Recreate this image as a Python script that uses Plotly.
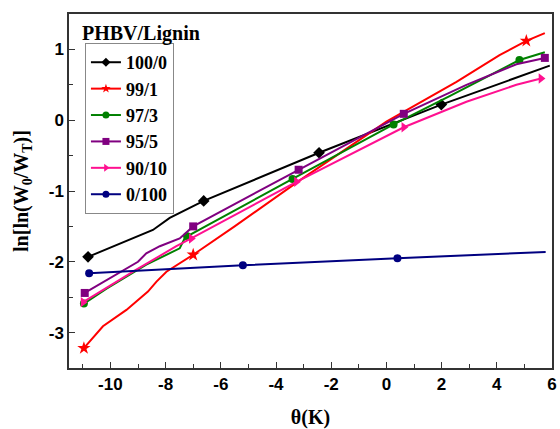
import plotly.graph_objects as go

# theta (K) vs ln[ln(W0/WT)] for PHBV/Lignin blends
labels = ["100/0", "99/1", "97/3", "95/5", "90/10", "0/100"]

x_100_0 = [-10.81, -8.46, -7.85, -6.62, -2.44, 1.99, 5.92]
y_100_0 = [-1.93, -1.55, -1.38, -1.14, -0.46, 0.22, 0.77]
m_100_0 = [0, 3, 4, 5]

x_99_1 = [-10.96, -10.27, -9.42, -8.64, -8.33, -7.97, -7.0, -5.5, -3.14, 0.0, 2.54, 4.1, 5.07, 5.74]
y_99_1 = [-3.22, -2.91, -2.68, -2.42, -2.28, -2.14, -1.90, -1.50, -0.85, -0.02, 0.54, 0.92, 1.12, 1.23]
m_99_1 = [0, 6, 12]

x_97_3 = [-10.96, -10.14, -8.7, -7.97, -7.49, -7.31, -7.22, -3.4, 0.26, 2.29, 4.82, 5.74]
y_97_3 = [-2.59, -2.38, -2.04, -1.90, -1.81, -1.67, -1.64, -0.83, -0.06, 0.34, 0.85, 0.96]
m_97_3 = [0, 6, 7, 8, 10]

x_95_5 = [-10.93, -9.0, -8.7, -8.21, -7.49, -7.0, -3.18, 0.63, 2.9, 4.71, 5.74]
y_95_5 = [-2.44, -2.0, -1.88, -1.78, -1.67, -1.50, -0.70, 0.09, 0.50, 0.79, 0.88]
m_95_5 = [0, 5, 6, 7, 10]

x_90_10 = [-10.99, -9.06, -7.61, -7.07, -3.26, 0.63, 2.9, 4.71, 5.6]
y_90_10 = [-2.57, -2.11, -1.78, -1.67, -0.87, -0.10, 0.26, 0.50, 0.59]
m_90_10 = [0, 3, 4, 5, 8]

x_0_100 = [-10.77, -5.2, 0.4, 5.77]
y_0_100 = [-2.16, -2.05, -1.95, -1.86]
m_0_100 = [0, 1, 2]

x_ticks = [-10, -8, -6, -4, -2, 0, 2, 4, 6]
y_ticks = [-3, -2, -1, 0, 1]

series = [
    (labels[0], x_100_0, y_100_0, m_100_0, "#000000", "diamond", 9),
    (labels[1], x_99_1, y_99_1, m_99_1, "#FF0000", "star", 10),
    (labels[2], x_97_3, y_97_3, m_97_3, "#008000", "circle", 8),
    (labels[3], x_95_5, y_95_5, m_95_5, "#800080", "square", 8),
    (labels[4], x_90_10, y_90_10, m_90_10, "#FF1090", "triangle-right", 9),
    (labels[5], x_0_100, y_0_100, m_0_100, "#000080", "circle", 8),
]

serif = "Liberation Serif"
sans = "Liberation Sans"

fig = go.Figure()
for name, xs, ys, idx, color, sym, size in series:
    # the curve itself
    fig.add_trace(go.Scatter(
        x=xs, y=ys, mode="lines", line=dict(color=color, width=2),
        showlegend=False, hoverinfo="skip",
    ))
    # symbols on selected points
    fig.add_trace(go.Scatter(
        x=[xs[i] for i in idx], y=[ys[i] for i in idx], mode="markers",
        marker=dict(symbol=sym, size=size, color=color, line=dict(width=0)),
        showlegend=False,
    ))
    # legend entry
    fig.add_trace(go.Scatter(
        x=[None], y=[None], mode="lines+markers", name=name,
        line=dict(color=color, width=2),
        marker=dict(symbol=sym, size=7, color=color, line=dict(width=0)),
    ))

axis_common = dict(
    showline=True, linecolor="#333333", linewidth=1.5, mirror=True,
    ticks="inside", ticklen=6, tickwidth=1.2, tickcolor="#333333",
    showgrid=False, zeroline=False, automargin=False,
    tickfont=dict(family=sans, size=17, color="#000000", weight="bold"),
)

fig.update_xaxes(
    range=[-11.5, 6], tickmode="array", tickvals=x_ticks,
    ticktext=[str(v) for v in x_ticks],
    minor=dict(ticks="inside", ticklen=4, tickmode="array",
               tickvals=[-11, -9, -7, -5, -3, -1, 1, 3, 5], tickcolor="#333333"),
    title=dict(text="θ(K)", font=dict(family=serif, size=20, color="#000000", weight="bold"),
               standoff=23),
    **axis_common,
)
fig.update_yaxes(
    range=[-3.5, 1.5], tickmode="array", tickvals=y_ticks,
    ticktext=[str(v) for v in y_ticks],
    minor=dict(ticks="inside", ticklen=4, tickmode="array",
               tickvals=[-2.5, -1.5, -0.5, 0.5], tickcolor="#333333"),
    title=dict(text="ln[ln(W<sub>0</sub>/W<sub>T</sub>)]",
               font=dict(family=serif, size=20, color="#000000", weight="bold"),
               standoff=15),
    **axis_common,
)

fig.add_annotation(
    text="PHBV/Lignin", xref="paper", yref="paper", x=0.023, y=0.946,
    xanchor="left", yanchor="middle", showarrow=False,
    font=dict(family=serif, size=20, color="#000000", weight="bold"),
)

fig.update_layout(
    width=560, height=429,
    margin=dict(l=69, r=8, t=14, b=61),
    paper_bgcolor="white", plot_bgcolor="white",
    legend=dict(
        x=0.033, y=0.918, xanchor="left", yanchor="top",
        bordercolor="#888888", borderwidth=1, bgcolor="white",
        font=dict(family=serif, size=18, color="#000000", weight="bold"),
        tracegroupgap=0, itemwidth=30,
    ),
)

fig.write_html("out.html")
